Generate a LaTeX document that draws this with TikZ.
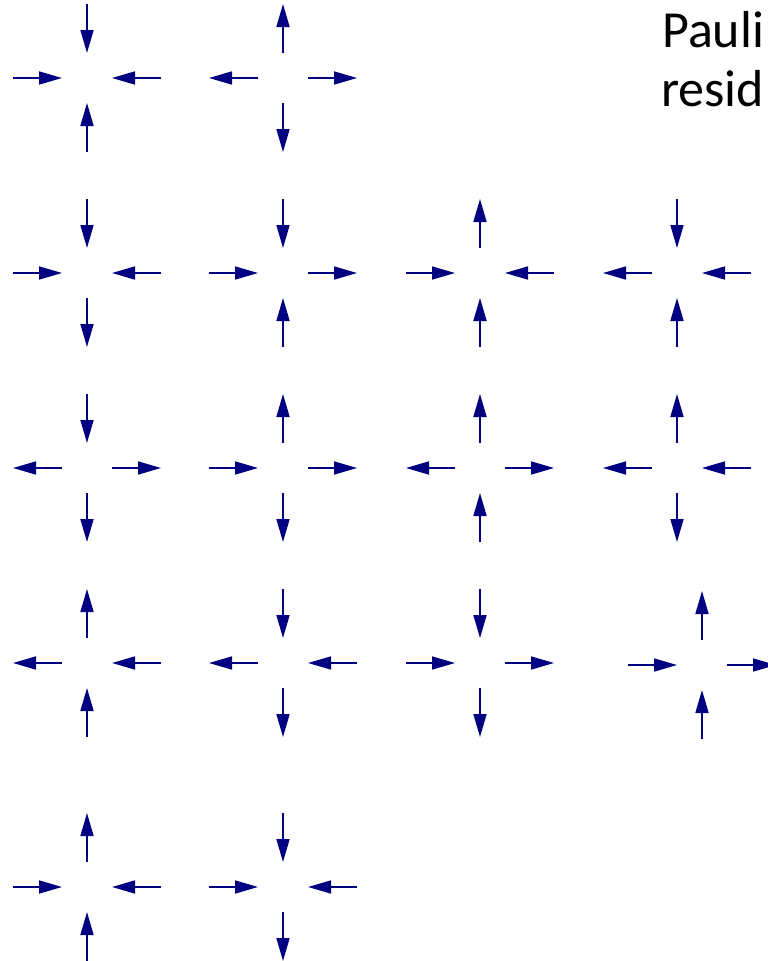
\documentclass[tikz,border=0pt]{standalone}
\usepackage{fontspec}
\setmainfont{Carlito}
\usetikzlibrary{arrows.meta,calc}
\definecolor{spin}{RGB}{0,0,128}
\tikzset{
  arr/.style={draw=spin, line width=1.7pt, -{Triangle[length=23pt,width=13pt]}},
  lbl/.style={inner sep=0pt, anchor=base west, font=\fontsize{52pt}{61pt}\selectfont, text=black}
}
% one arm: centre, angle, i (pointing to centre) or o (pointing away)
\newcommand\spinarm[3]{%
  \if i#3
    \draw[arr] ($(#1)+(#2:74)$) -- ($(#1)+(#2:25)$);
  \else
    \draw[arr] ($(#1)+(#2:25)$) -- ($(#1)+(#2:74)$);
  \fi}
% vertex: name, x, y, top, left, right, bottom
\newcommand\spinvtx[7]{%
  \coordinate (#1) at (#2,#3);
  \spinarm{#1}{270}{#4}
  \spinarm{#1}{180}{#5}
  \spinarm{#1}{0}{#6}
  \spinarm{#1}{90}{#7}}
\begin{document}
\begin{tikzpicture}[x=1pt,y=-1pt]
\useasboundingbox (0,0) rectangle (768,961);
\clip (0,0) rectangle (768,961);
\spinvtx{v11}{87}{78}{i}{i}{i}{i}
\spinvtx{v12}{283}{78}{o}{o}{o}{o}
\spinvtx{v21}{87}{273}{i}{i}{i}{o}
\spinvtx{v22}{283}{273}{i}{i}{o}{i}
\spinvtx{v23}{480}{273}{o}{i}{i}{i}
\spinvtx{v24}{677}{273}{i}{o}{i}{i}
\spinvtx{v31}{87}{468}{i}{o}{o}{o}
\spinvtx{v32}{283}{468}{o}{i}{o}{o}
\spinvtx{v33}{480}{468}{o}{o}{o}{i}
\spinvtx{v34}{677}{468}{o}{o}{i}{o}
\spinvtx{v41}{87}{663}{o}{o}{i}{i}
\spinvtx{v42}{283}{663}{i}{o}{i}{o}
\spinvtx{v43}{480}{663}{i}{i}{o}{o}
\spinvtx{v44}{702}{665}{o}{i}{o}{i}
\spinvtx{v51}{87}{887}{o}{i}{i}{i}
\spinvtx{v52}{283}{887}{i}{i}{i}{o}
\node[lbl] (t1) at (662,47) {Pauli};
\node[lbl] (t2) at (661,106) {resid};
\end{tikzpicture}
\end{document}
